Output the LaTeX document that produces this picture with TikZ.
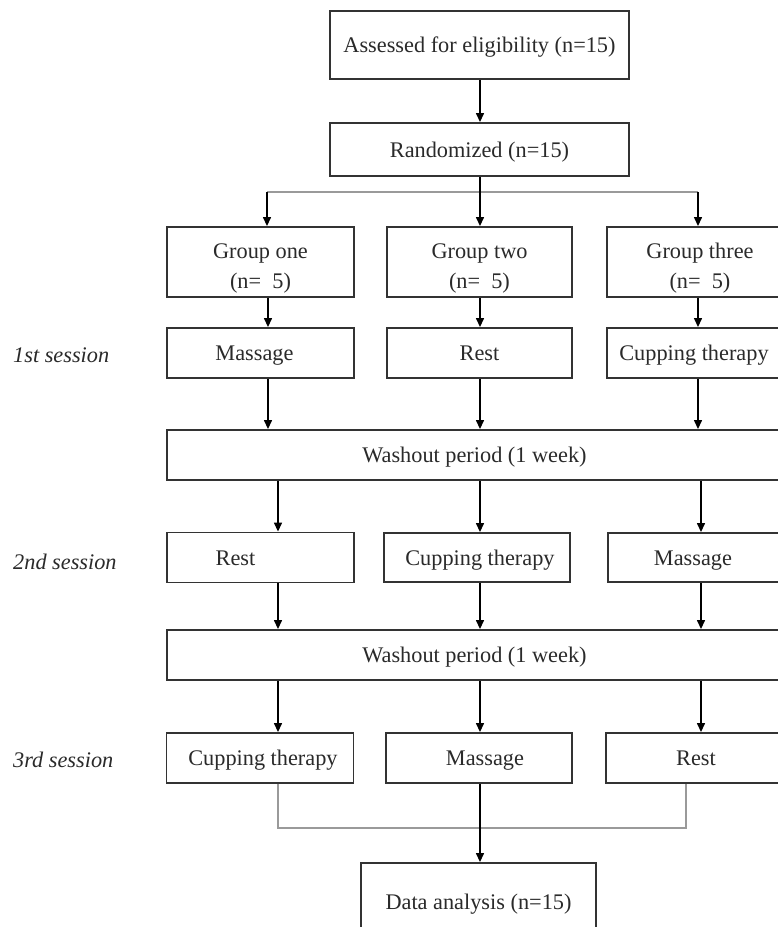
\documentclass[tikz,border=0pt]{standalone}
\usepackage{fontspec}
\setmainfont{Liberation Serif}
\usetikzlibrary{arrows.meta}
\definecolor{boxc}{HTML}{333333}
\definecolor{txt}{HTML}{2A2A2A}
\definecolor{thinc}{HTML}{9A9A9A}
\begin{document}
\begin{tikzpicture}[x=1pt,y=-1pt,
  fs/.style={font=\fontsize{22.3}{30}\selectfont},
  box/.style={draw=boxc, line width=1.9pt, inner sep=0pt, fs, text=txt, align=center},
  one/.style={text height=16pt, text depth=1pt},
  wbox/.style={box, one, minimum width=187pt, minimum height=50pt},
  arr/.style={draw=black, line width=1.4pt, -{Triangle[length=9pt,width=8pt]}},
  thinline/.style={draw=thinc, line width=1.3pt},
  sess/.style={fs, font=\fontsize{22.3}{30}\selectfont\itshape, text=txt, anchor=west, inner sep=0pt}]
\useasboundingbox (0,0) rectangle (778,927);
\clip (0,0) rectangle (778,927);
\fill[white] (0,0) rectangle (778,927);

% column x positions
\coordinate (xa) at (268,0);
\coordinate (xa2) at (278,0);
\coordinate (xb) at (480,0);
\coordinate (xc) at (698,0);
\coordinate (xc2) at (701,0);

% top boxes
\node[box, one, minimum width=299pt, minimum height=68pt] (assess) at (479.5,45) {Assessed for eligibility (n=15)};
\node[box, one, minimum width=299pt, minimum height=53pt] (rand) at (479.5,149.5) {Randomized (n=15)};

% groups
\node[box, minimum width=187pt, minimum height=70pt] (g1) at (260.5,262) {\rule{0pt}{27pt}Group one\\(n=~~5)};
\node[box, minimum width=185pt, minimum height=70pt] (g2) at (479.5,262) {\rule{0pt}{27pt}Group two\\(n=~~5)};
\node[box, minimum width=186pt, minimum height=70pt] (g3) at (700,262) {\rule{0pt}{27pt}Group three\\(n=~~5)};

% 1st session
\node[wbox] (s1a) at (260.5,353) {Massage\hspace*{12pt}};
\node[box, one, minimum width=185pt, minimum height=50pt] (s1b) at (479.5,353) {Rest};
\node[box, one, minimum width=186pt, minimum height=50pt] (s1c) at (700,353) {Cupping therapy\hspace*{12pt}};

\node[box, one, minimum width=623pt, minimum height=50pt] (w1) at (478.5,455) {Washout period (1 week)\hspace*{8pt}};

% 2nd session
\node[wbox] (s2a) at (260.5,557.5) {Rest\hspace*{50pt}};
\node[box, one, minimum width=186pt, minimum height=49pt] (s2b) at (477,557.5) {\hspace*{6pt}Cupping therapy};
\node[box, one, minimum width=186pt, minimum height=49pt] (s2c) at (701,557.5) {Massage\hspace*{16pt}};

\node[box, one, minimum width=623pt, minimum height=50pt] (w2) at (478.5,655) {Washout period (1 week)\hspace*{8pt}};

% 3rd session
\node[wbox] (s3a) at (260,758) {\hspace*{6pt}Cupping therapy};
\node[box, one, minimum width=186pt, minimum height=50pt] (s3b) at (479,758) {\hspace*{12pt}Massage};
\node[box, one, minimum width=186pt, minimum height=50pt] (s3c) at (699,758) {Rest\hspace*{6pt}};

% data analysis
\node[box, one, minimum width=235pt, minimum height=78pt] (data) at (478.5,902) {Data analysis (n=15)};

% session labels
\node[sess] (l1) at (13,355) {1st session};
\node[sess] (l2) at (13,562) {2nd session};
\node[sess] (l3) at (13,760) {3rd session};

% connectors
\draw[arr] (assess.south -| xb) -- (rand.north -| xb);
\coordinate (bl) at (267,192);
\coordinate (br) at (698,192);
\draw[thinline] (bl) -- (br);
\draw[arr] (rand.south -| xb) -- (g2.north -| xb);
\draw[arr] (bl) -- (g1.north -| bl);
\draw[arr] (br) -- (g3.north -| br);

\draw[arr] (g1.south -| xa) -- (s1a.north -| xa);
\draw[arr] (g2.south -| xb) -- (s1b.north -| xb);
\draw[arr] (g3.south -| xc) -- (s1c.north -| xc);

\draw[arr] (s1a.south -| xa) -- (w1.north -| xa);
\draw[arr] (s1b.south -| xb) -- (w1.north -| xb);
\draw[arr] (s1c.south -| xc) -- (w1.north -| xc);

\draw[arr] (w1.south -| xa2) -- (s2a.north -| xa2);
\draw[arr] (w1.south -| xb) -- (s2b.north -| xb);
\draw[arr] (w1.south -| xc2) -- (s2c.north -| xc2);

\draw[arr] (s2a.south -| xa2) -- (w2.north -| xa2);
\draw[arr] (s2b.south -| xb) -- (w2.north -| xb);
\draw[arr] (s2c.south -| xc2) -- (w2.north -| xc2);

\draw[arr] (w2.south -| xa2) -- (s3a.north -| xa2);
\draw[arr] (w2.south -| xb) -- (s3b.north -| xb);
\draw[arr] (w2.south -| xc2) -- (s3c.north -| xc2);

\coordinate (ml) at (278,828);
\coordinate (mr) at (686,828);
\draw[thinline] (s3a.south -| ml) -- (ml) -- (mr) -- (s3c.south -| mr);
\draw[arr] (s3b.south -| xb) -- (data.north -| xb);
\end{tikzpicture}
\end{document}
